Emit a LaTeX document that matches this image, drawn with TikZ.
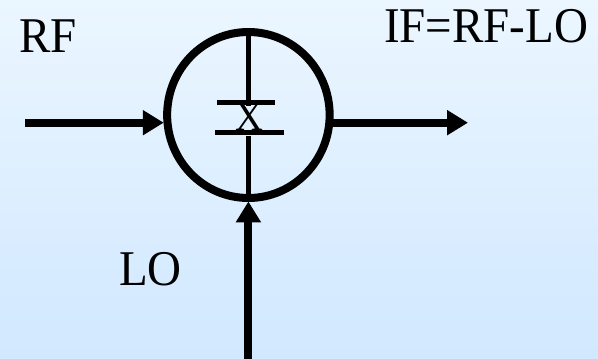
\documentclass[tikz,border=0pt]{standalone}
\usepackage{fontspec}
\usepackage{xcolor}
\setmainfont{Liberation Serif}
\usetikzlibrary{arrows.meta,positioning,shapes.geometric}
\definecolor{bgtop}{RGB}{235,246,255}
\definecolor{bgbot}{RGB}{209,232,255}
\newcommand{\narrowtxt}[1]{\scalebox{.94}[1]{#1}}

\begin{document}
\begin{tikzpicture}[
  x=1pt, y=-1pt,
  lbl/.style={inner sep=0pt, anchor=base west, font=\fontsize{50}{54}\selectfont},
  mixer/.style={draw, ellipse, line width=8pt, inner sep=0pt, outer sep=3.4pt, minimum width=162.5pt, minimum height=166pt},
  plate/.style={fill=black, inner sep=0pt, minimum height=5.3pt},
  arr/.style={-{Triangle[length=21pt,width=24pt]}, line width=8pt},
  stem/.style={line width=5pt}
]
\useasboundingbox[top color=bgtop, bottom color=bgbot] (0,0) rectangle (598,359);
\node[mixer] (mix) at (248.4,115) {};
\node[inner sep=0pt, font=\fontsize{41}{44}\selectfont] (x) at (249,117.5) {\narrowtxt{X}};
\node[plate, minimum width=58pt] (top) at (246,102.7) {};
\node[plate, minimum width=69pt] (bot) at (249.5,132.7) {};
\node[lbl] (rf) at (19,52) {\narrowtxt{RF}};
\node[lbl] (if) at (384,42.7) {\narrowtxt{IF=RF-LO}};
\node[lbl] (lo) at (119,285) {\narrowtxt{LO}};
\coordinate (rfin) at (25,122.7);
\coordinate (ifout) at (468,122.7);
\coordinate (loin) at (248.4,359);
\draw[stem] (mix.north) -- (mix.north |- top.south);
\draw[stem] (mix.south) -- (mix.south |- bot.south);
\draw[arr] (rfin) -- (rfin -| mix.west);
\draw[arr] (rfin -| mix.east) -- (ifout);
\draw[arr] (loin) -- (mix.south);
\end{tikzpicture}
\end{document}
